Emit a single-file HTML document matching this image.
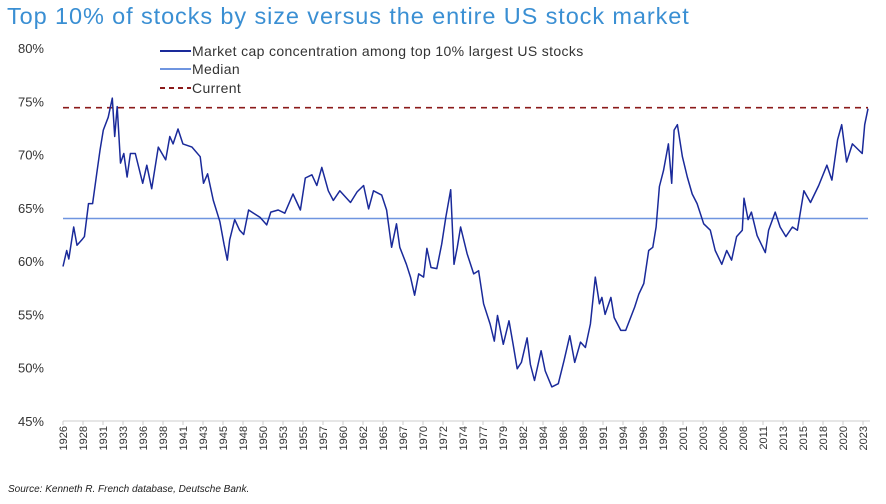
<!DOCTYPE html>
<html><head><meta charset="utf-8">
<style>
body{margin:0;background:#fff;font-family:"Liberation Sans",sans-serif}
#wrap{position:relative;width:886px;height:504px;overflow:hidden}
#title{position:absolute;left:7px;top:3px;font-size:23.5px;letter-spacing:0.9px;color:#3a8fd3;white-space:nowrap}
#source{position:absolute;left:8px;top:484px;font-size:10px;font-style:italic;color:#222}
</style></head><body>
<div id="wrap">
<div id="title">Top 10% of stocks by size versus the entire US stock market</div>
<svg id="chart" width="886" height="504" style="position:absolute;left:0;top:0"></svg>
<div id="source">Source: Kenneth R. French database, Deutsche Bank.</div>
</div>
<script>
const years=[1926.0,1926.45,1926.7,1927.3,1927.7,1928.3,1928.6,1929.1,1929.6,1930.1,1930.5,1930.9,1931.5,1932.0,1932.3,1932.6,1933.0,1933.4,1933.8,1934.2,1934.8,1935.7,1936.2,1936.8,1937.6,1938.5,1939.0,1939.4,1940.0,1940.6,1941.7,1942.7,1943.1,1943.6,1944.3,1945.1,1945.6,1946.0,1946.3,1946.9,1947.5,1948.0,1948.6,1949.2,1950.0,1950.8,1951.3,1952.2,1953.0,1954.0,1954.9,1955.5,1956.3,1956.9,1957.5,1958.3,1958.9,1959.7,1961.0,1961.8,1962.6,1963.2,1963.8,1964.8,1965.4,1966.0,1966.6,1967.0,1967.8,1968.3,1968.8,1969.3,1969.9,1970.3,1970.8,1971.5,1972.1,1972.6,1973.2,1973.6,1974.0,1974.4,1975.2,1976.0,1976.6,1977.2,1978.0,1978.5,1978.9,1979.6,1980.3,1980.8,1981.3,1981.8,1982.5,1982.9,1983.4,1984.2,1984.7,1985.5,1986.3,1987.0,1987.7,1988.3,1989.0,1989.6,1990.2,1990.8,1991.3,1991.6,1992.0,1992.7,1993.1,1993.9,1994.5,1995.1,1995.6,1996.1,1996.7,1997.3,1997.8,1998.2,1998.6,1999.1,1999.7,2000.1,2000.4,2000.8,2001.4,2002.0,2002.6,2003.2,2004.0,2004.8,2005.4,2006.2,2006.8,2007.4,2008.0,2008.7,2008.9,2009.4,2009.8,2010.5,2011.5,2011.9,2012.7,2013.3,2014.0,2014.8,2015.4,2016.2,2017.0,2018.0,2019.0,2019.6,2020.3,2020.8,2021.4,2022.1,2023.3,2023.6,2024.0];
const values=[59.5,61.0,60.2,63.2,61.5,62.0,62.3,65.4,65.4,68.2,70.4,72.3,73.5,75.3,71.7,74.5,69.2,70.1,67.9,70.1,70.1,67.3,69.0,66.8,70.7,69.5,71.7,71.0,72.4,71.0,70.7,69.8,67.3,68.2,65.7,63.7,61.6,60.1,62.0,63.9,62.9,62.5,64.8,64.5,64.1,63.4,64.6,64.8,64.5,66.3,64.8,67.8,68.1,67.1,68.8,66.6,65.7,66.6,65.5,66.5,67.1,64.9,66.6,66.2,64.8,61.3,63.5,61.3,59.7,58.5,56.8,58.8,58.5,61.2,59.4,59.3,61.6,64.1,66.7,59.7,61.3,63.2,60.7,58.8,59.1,56.0,54.1,52.5,54.9,52.2,54.4,52.2,49.9,50.5,52.8,50.3,48.8,51.6,49.7,48.2,48.5,50.7,53.0,50.5,52.4,51.9,54.1,58.5,56.0,56.6,55.0,56.6,54.7,53.5,53.5,54.7,55.7,56.9,57.9,61.0,61.3,63.2,67.0,68.5,71.0,67.3,72.3,72.8,69.8,67.9,66.3,65.4,63.5,62.9,61.0,59.7,61.0,60.1,62.3,62.9,65.9,63.9,64.6,62.4,60.8,62.9,64.6,63.2,62.3,63.2,62.9,66.6,65.5,67.1,69.0,67.6,71.4,72.8,69.3,71.0,70.1,72.8,74.3];
const yTicks=[45,50,55,60,65,70,75,80];
const xTickLabels=["1926","1928","1931","1933","1936","1938","1941","1943","1945","1948","1950","1953","1955","1957","1960","1962","1965","1967","1970","1972","1974","1977","1979","1982","1984","1986","1989","1991","1994","1996","1999","2001","2003","2006","2008","2011","2013","2015","2018","2020","2023"];
const median=64.0;
const current=74.4;

const svg=document.getElementById('chart');
const NS='http://www.w3.org/2000/svg';
const X0=63,X1=868,Y0=421,Y1=48;
const xs=y=>X0+(y-1926)*(X1-X0)/(2024-1926);
const ys=v=>Y0-(v-45)*(Y0-Y1)/35;
function mk(t,a){const e=document.createElementNS(NS,t);for(const k in a)e.setAttribute(k,a[k]);svg.appendChild(e);return e;}

yTicks.forEach(v=>{
  const t=mk('text',{x:44,y:ys(v)+5,'text-anchor':'end','font-size':13,fill:'#333'});
  t.textContent=v+'%';
  
  
});
const ax=mk('line',{x1:X0,x2:870,y1:Y0,y2:Y0,stroke:'#ccc','stroke-width':1});


xTickLabels.forEach((lab,i)=>{
  const x=X0+i*(X1-X0-5)/(xTickLabels.length-1);
  const tk=mk('line',{x1:x,x2:x,y1:Y0,y2:Y0+4,stroke:'#ccc'});
  
  
  const t=mk('text',{x:0,y:0,'text-anchor':'end','font-size':11,fill:'#333',transform:`translate(${x+4},${Y0+5}) rotate(-90)`});
  t.textContent=lab;
  
  
});
const med=mk('line',{x1:X0,x2:X1,y1:ys(median),y2:ys(median),stroke:'#6f95e0','stroke-width':1.5});


const cur=mk('line',{x1:X0,x2:X1,y1:ys(current),y2:ys(current),stroke:'#8b1a1a','stroke-width':1.6,'stroke-dasharray':'6,5'});


const pts=years.map((y,i)=>xs(y).toFixed(1)+','+ys(values[i]).toFixed(1)).join(' ');
const pl=mk('polyline',{points:pts,fill:'none',stroke:'#1a2a9a','stroke-width':1.5,'stroke-linejoin':'round'});



const leg=[['Market cap concentration among top 10% largest US stocks','#1a2a9a',null,51],['Median','#6f95e0',null,69],['Current','#8b1a1a','5,4',88]];
leg.forEach(l=>{
  const a={x1:160,x2:191,y1:l[3],y2:l[3],stroke:l[1],'stroke-width':2};
  if(l[2])a['stroke-dasharray']=l[2];
  const ln=mk('line',a);
  
  
  const t=mk('text',{x:192,y:l[3]+5,'font-size':14,'letter-spacing':0.35,fill:'#333'});
  t.textContent=l[0];
  
  
});
</script>
</body></html>
